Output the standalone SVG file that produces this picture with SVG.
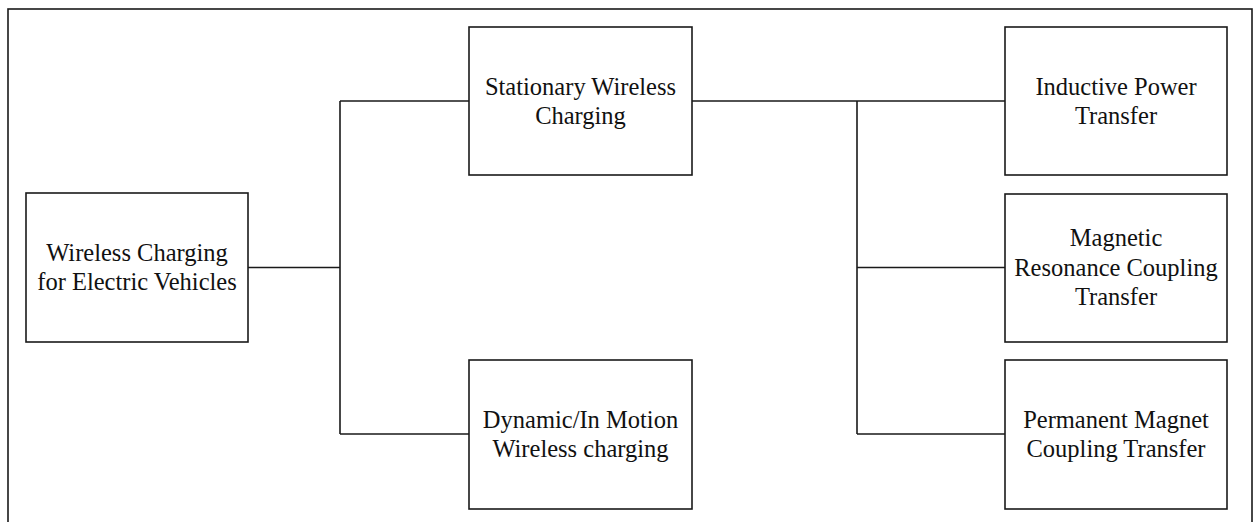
<svg xmlns="http://www.w3.org/2000/svg" width="1255" height="522" viewBox="0 0 1255 522">
<style>
.box{fill:#fff;stroke:#1a1a1a;stroke-width:1.6}
.ln{fill:none;stroke:#1a1a1a;stroke-width:1.6}
.t{font-family:"Liberation Serif","Times New Roman",serif;font-size:24.5px;fill:#111;text-anchor:middle}
</style>
<rect x="0" y="0" width="1255" height="522" fill="#fff"/>
<rect id="frame" x="8" y="9" width="1244" height="530" fill="none" stroke="#1a1a1a" stroke-width="1.6"/>
<g id="connectors">
<path class="ln" d="M248 267.5H340M340 101V434M340 101H469M340 434H469"/>
<path class="ln" d="M692 101H1005M857 101V434M857 267.5H1005M857 434H1005"/>
</g>
<g id="n-root">
<rect class="box" x="26" y="193" width="222" height="149"/>
<text class="t" x="137" y="260.5">Wireless Charging</text>
<text class="t" x="137" y="289.5">for Electric Vehicles</text>
</g>
<g id="n-stationary">
<rect class="box" x="469" y="27" width="223" height="148"/>
<text class="t" x="580.5" y="94.5">Stationary Wireless</text>
<text class="t" x="580.5" y="123.5">Charging</text>
</g>
<g id="n-dynamic">
<rect class="box" x="469" y="360" width="223" height="149"/>
<text class="t" x="580.5" y="427.5">Dynamic/In Motion</text>
<text class="t" x="580.5" y="456.5">Wireless charging</text>
</g>
<g id="n-inductive">
<rect class="box" x="1005" y="27" width="222" height="148"/>
<text class="t" x="1116" y="94.5">Inductive Power</text>
<text class="t" x="1116" y="123.5">Transfer</text>
</g>
<g id="n-magnetic">
<rect class="box" x="1005" y="194" width="222" height="148"/>
<text class="t" x="1116" y="246">Magnetic</text>
<text class="t" x="1116" y="276">Resonance Coupling</text>
<text class="t" x="1116" y="305">Transfer</text>
</g>
<g id="n-permanent">
<rect class="box" x="1005" y="360" width="222" height="149"/>
<text class="t" x="1116" y="427.5">Permanent Magnet</text>
<text class="t" x="1116" y="456.5">Coupling Transfer</text>
</g>
</svg>
